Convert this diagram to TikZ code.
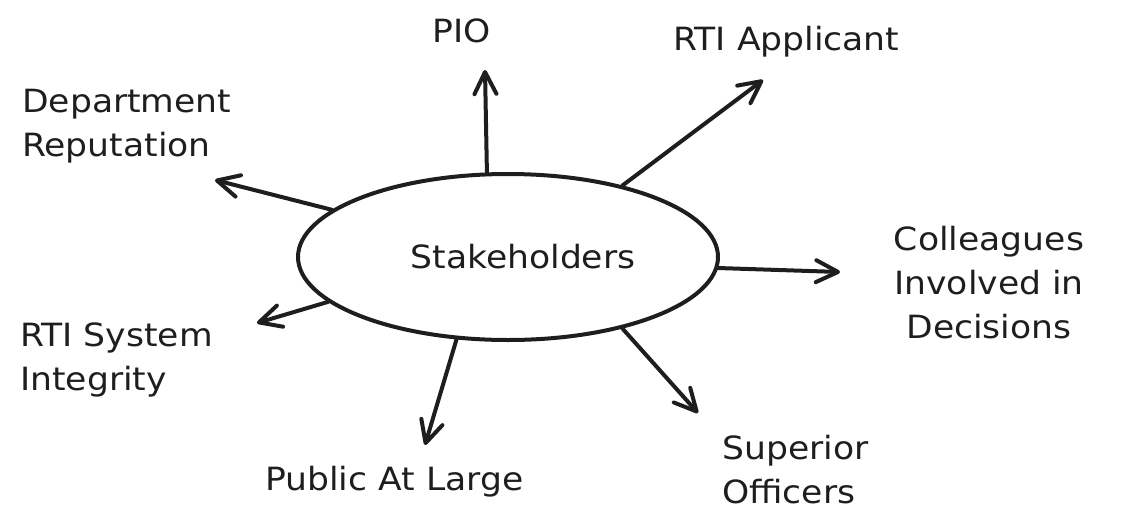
\documentclass[tikz,border=0pt]{standalone}
\usepackage{fontspec}
\setmainfont{DejaVu Sans}[FakeStretch=1.08]
\usetikzlibrary{shapes.geometric,arrows.meta}
\definecolor{ink}{HTML}{1E1E1E}
\tikzset{
  hub/.style={ellipse, draw=ink, line width=4pt, minimum width=420pt, minimum height=166pt, inner sep=0pt, text=ink, font=\fontsize{32}{44}\selectfont},
  lbl/.style={inner sep=0pt, text=ink, font=\fontsize{32}{44}\selectfont},
  link/.style={draw=ink, line width=4pt, line cap=round, -{Straight Barb[length=22pt,width=22pt,line width=4pt,round]}}
}
\begin{document}
\begin{tikzpicture}[x=1pt,y=-1pt]
\useasboundingbox (0,0) rectangle (1135,528);
\node[hub] (s) at (508,257) {\hspace*{30pt}Stakeholders};

\coordinate (tPIO) at (485,70);
\coordinate (tApp) at (763,80);
\coordinate (tDep) at (215,180);
\coordinate (tCol) at (840,272);
\coordinate (tSys) at (257,323);
\coordinate (tPub) at (425,445);
\coordinate (tSup) at (698,413);

\node[lbl, anchor=base west] (pio) at (432,42) {PIO};
\node[lbl, anchor=base west] (app) at (673,50) {RTI Applicant};
\node[lbl, anchor=base west, align=left] (dep) at (22,156) {Department\\Reputation};
\node[lbl, anchor=base, align=center] (col) at (989,338) {Colleagues\\Involved in\\Decisions};
\node[lbl, anchor=base west, align=left] (sys) at (20,390) {RTI System\\Integrity};
\node[lbl, anchor=base west] (pub) at (265,490) {Public At Large};
\node[lbl, anchor=base west, align=left] (sup) at (722,503) {Superior\\Officers};

\draw[link] (s.104.2) -- (tPIO);
\draw[link] (s.32) -- (tApp);
\draw[link] (s.165.7) -- (tDep);
\draw[link] (s.-3) -- (tCol);
\draw[link] (s.194.6) -- (tSys);
\draw[link] (s.238.4) -- (tPub);
\draw[link] (s.-32) -- (tSup);
\end{tikzpicture}
\end{document}
